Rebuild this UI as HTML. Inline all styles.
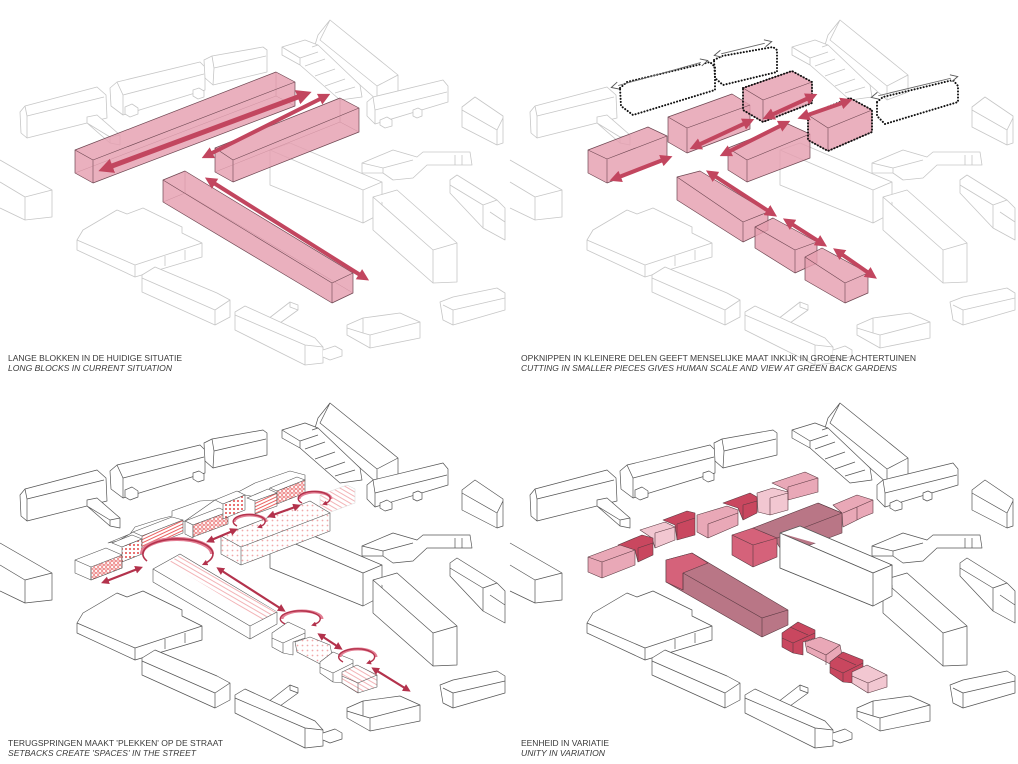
<!DOCTYPE html>
<html><head><meta charset="utf-8"><style>
html,body{margin:0;padding:0;background:#fff;}
svg{display:block;}
text{font-family:"Liberation Sans",Arial,sans-serif;font-size:8px;fill:#3a3a3a;}
</style></head><body>
<svg width="1018" height="764" viewBox="0 0 1018 764" xmlns="http://www.w3.org/2000/svg">
<defs>
<marker id="ah" viewBox="0 0 10 10" refX="6" refY="5" markerWidth="3" markerHeight="3" orient="auto-start-reverse"><path d="M0,0 L10,5 L0,10 z" fill="#c2465f"/></marker>
<marker id="ah2" viewBox="0 0 10 10" refX="6" refY="5" markerWidth="3.6" markerHeight="3.6" orient="auto-start-reverse"><path d="M0,0 L10,5 L0,10 z" fill="#b3324c"/></marker>
<marker id="ho" viewBox="0 0 10 10" refX="7" refY="5" markerUnits="userSpaceOnUse" markerWidth="9" markerHeight="9" orient="auto-start-reverse"><path d="M1,1 L9,5 L1,9" fill="#fff" stroke="#555" stroke-width="1"/></marker>
<pattern id="dots" width="4" height="4" patternUnits="userSpaceOnUse"><rect width="4" height="4" fill="#fff"/><circle cx="2" cy="2" r="0.95" fill="#e23a3a"/></pattern>
<pattern id="sq" width="4" height="4" patternUnits="userSpaceOnUse"><rect width="4" height="4" fill="#fff"/><circle cx="2" cy="2" r="1.3" fill="none" stroke="#e23a3a" stroke-width="0.7"/></pattern>
<pattern id="diag" width="3" height="3" patternUnits="userSpaceOnUse" patternTransform="rotate(-25)"><rect width="3" height="3" fill="#fff"/><line x1="0" y1="1" x2="3" y2="1" stroke="#e8504f" stroke-width="0.9"/></pattern>
<pattern id="pdiag" width="4" height="4" patternUnits="userSpaceOnUse" patternTransform="rotate(30)"><rect width="4" height="4" fill="#fff"/><line x1="0" y1="1" x2="4" y2="1" stroke="#f0a0a4" stroke-width="0.8"/></pattern>
<pattern id="pdots" width="5" height="5" patternUnits="userSpaceOnUse"><rect width="5" height="5" fill="#fff"/><circle cx="2.5" cy="2.5" r="0.9" fill="#f2a8aa"/></pattern>

<g id="cA">
<path d="M20,112 L25,106 L97,87 L106,95 L107,118 L27,138 L21,133 Z M25,106 L27,116 L27,138 M27,116 L104,97"/>
<path d="M87,117 L97,115 L120,135 L120,145 L110,143 L87,123 Z M87,123 L110,137 L120,135 M110,137 L110,143"/>
<path d="M318,35 L330,20 L398,75 L398,92 L377,100 L315,45 Z M330,20 L320,40 L377,86 L377,100 M377,86 L398,75"/>
<path d="M282,47 L305,40 L318,45 L360,85 L362,97 L340,100 L300,65 L282,55 Z M282,47 L300,58 L300,65 M300,58 L318,52 M305,66 L325,59 M315,76 L335,69 M325,86 L345,79 M335,93 L355,87 M312,47 L318,45"/>
<path d="M462,107 L475,97 L503,116 L503,143 L497,145 L462,127 Z M462,110 L497,130 L497,145 M497,130 L503,118"/>
<path d="M0,160 L52,190 L52,217 L25,220 L0,208 M0,182 L25,197 L52,190 M25,197 L25,220"/>
<path d="M362,163 L393,150 L417,157 L423,152 L470,152 L472,165 L427,165 L413,178 L393,180 L383,173 L362,173 Z M362,163 L383,168 L383,173 M383,168 L413,160 M455,155 L455,165 M462,155 L462,165"/>
<path d="M270,150 L290,143 L382,182 L382,213 L363,223 L270,185 Z M270,150 L363,190 L382,182 M363,190 L363,223"/>
<path d="M373,197 L397,190 L457,243 L457,282 L433,283 L373,230 Z M373,197 L433,250 L457,243 M433,250 L433,283"/>
<path d="M450,180 L457,175 L497,200 L505,208 L505,240 L483,228 L450,193 Z M450,185 L483,205 L483,228 M483,205 L497,200 M490,212 L505,222"/>
<path d="M77,240 L83,230 L117,210 L127,214 L143,208 L182,227 L182,233 L202,243 L202,257 L135,277 L77,250 Z M77,240 L135,265 L202,243 M135,265 L135,277 M165,256 L165,266 M185,250 L185,260"/>
<path d="M142,275 L155,267 L217,293 L230,300 L230,317 L215,325 L142,292 Z M142,278 L215,310 L230,300 M215,310 L215,325"/>
<path d="M268,319 L290,302 L298,305 L298,310 L280,323 Z M290,302 L290,307 L298,310"/>
<path d="M235,312 L245,306 L315,338 L323,347 L323,363 L305,365 L235,330 Z M235,315 L305,345 L323,347 M305,345 L305,365"/>
<path d="M323,350 L335,346 L342,350 L342,356 L330,360 L323,357"/>
<path d="M347,325 L363,318 L400,313 L420,322 L420,338 L370,348 L347,335 Z M347,328 L363,333 L370,335 L370,348 M370,335 L420,322 M363,318 L363,333"/>
<path d="M440,302 L453,297 L497,288 L505,293 L505,310 L453,325 L443,320 Z M443,305 L453,310 L505,298 M453,310 L453,325"/>
</g>
<g id="cB">
<path d="M110,88 L117,82 L200,62 L205,67 L205,90 L123,115 L111,106 Z M117,82 L123,95 L123,115 M123,95 L204,74"/>
<path d="M125,107 L132,104 L138,108 L138,114 L130,117 L125,114 Z M193,90 L199,88 L204,91 L204,97 L198,99 L193,96 Z"/>
<path d="M204,60 L212,56 L263,47 L267,50 L267,72 L213,85 L205,78 Z M212,56 L214,68 L213,85 M214,68 L266,56"/>
<path d="M367,102 L373,97 L443,80 L448,86 L448,102 L375,124 L367,116 Z M373,97 L375,110 L375,124 M375,110 L447,92"/>
<path d="M380,120 L387,117 L392,120 L392,126 L385,128 L380,125 Z M413,110 L418,108 L422,110 L422,116 L417,118 L413,116 Z"/>
</g>
<g id="cBo">
<path d="M110,88 L117,82 L200,62 L205,67 L205,90 L123,115 L111,106 Z"/>
<path d="M204,60 L212,56 L263,47 L267,50 L267,72 L213,85 L205,78 Z"/>
<path d="M367,102 L373,97 L443,80 L448,86 L448,102 L375,124 L367,116 Z"/>
</g>
<path id="bI" d="M270,150 L290,143 L382,182 L382,213 L363,223 L270,185 Z M270,150 L363,190 L382,182 M363,190 L363,223"/>
</defs>
<rect width="1018" height="764" fill="#fff"/>

<!-- ============ TOP LEFT ============ -->
<g transform="translate(0,0)" stroke-linejoin="round">
<use href="#cA" fill="#fff" stroke="#c6c6c6" stroke-width="0.8"/>
<use href="#cB" fill="#fff" stroke="#c6c6c6" stroke-width="0.8"/>
<g fill="#e59fb0" fill-opacity="0.82" stroke="#6e4752" stroke-width="0.7">
<path d="M75,150 L276,72 L295,82 L295,106 L93,183 L75,173 Z"/>
<path d="M215,148 L340,98 L359,108 L359,132 L233,182 L215,172 Z"/>
<path d="M163,180 L185,171 L353,273 L353,293 L332,303 L163,202 Z"/>
</g>
<g fill="none" stroke="#6e4752" stroke-width="0.6">
<path d="M75,150 L93,160 L295,82 M93,160 L93,183"/>
<path d="M215,148 L233,160 L359,108 M233,160 L233,182"/>
<path d="M163,180 L332,283 L353,273 M332,283 L332,303"/>
</g>
<g fill="none" stroke="#b07080" stroke-width="0.4" opacity="0.6">
<path d="M75,173 L276,96 L276,72 M276,96 L295,106"/>
<path d="M215,172 L340,122 L340,98 M340,122 L359,132"/>
<path d="M163,202 L185,193 L185,171 M185,193 L353,293"/>
</g>
<g stroke="#c2465f" fill="none" marker-start="url(#ah)" marker-end="url(#ah)">
<line x1="104" y1="169" x2="306" y2="94" stroke-width="5"/>
<line x1="206" y1="156" x2="326" y2="96" stroke-width="4"/>
<line x1="209" y1="180" x2="365" y2="278" stroke-width="4"/>
</g>
<text x="8" y="361" textLength="174" lengthAdjust="spacingAndGlyphs">LANGE BLOKKEN IN DE HUIDIGE SITUATIE</text>
<text x="8" y="371" textLength="164" lengthAdjust="spacingAndGlyphs" font-style="italic">LONG BLOCKS IN CURRENT SITUATION</text>
</g>

<!-- ============ TOP RIGHT ============ -->
<g transform="translate(510,0)" stroke-linejoin="round">
<use href="#cA" fill="#fff" stroke="#c6c6c6" stroke-width="0.8"/>
<use href="#cBo" fill="none" stroke="#111" stroke-width="2" stroke-dasharray="0.1 3" stroke-linecap="round"/>
<g stroke="#666" stroke-width="0.9" fill="none" marker-start="url(#ho)" marker-end="url(#ho)">
<line x1="103" y1="87" x2="196" y2="61"/>
<line x1="206" y1="55" x2="260" y2="42"/>
<line x1="363" y1="97" x2="446" y2="77"/>
</g>
<g fill="#e59fb0" fill-opacity="0.82" stroke="#6e4752" stroke-width="0.7">
<path d="M78,150 L138,127 L157,136 L157,160 L97,183 L78,173 Z"/>
<path d="M158,117 L222,94 L240,105 L240,129 L177,153 L158,142 Z"/>
<path d="M233,88 L282,71 L302,82 L302,103 L253,122 L233,110 Z"/>
<path d="M218,148 L278,124 L300,134 L300,158 L237,182 L218,170 Z"/>
<path d="M298,115 L340,98 L362,110 L362,132 L318,151 L298,140 Z"/>
<path d="M167,177 L190,171 L258,212 L258,230 L233,242 L167,200 Z"/>
<path d="M245,227 L263,218 L307,242 L307,263 L285,273 L245,248 Z"/>
<path d="M295,257 L312,248 L358,273 L358,293 L335,303 L295,280 Z"/>
</g>
<g fill="none" stroke="#6e4752" stroke-width="0.6">
<path d="M78,150 L97,159 L157,136 M97,159 L97,183"/>
<path d="M158,117 L177,128 L240,105 M177,128 L177,153"/>
<path d="M233,88 L253,100 L302,82 M253,100 L253,122"/>
<path d="M218,148 L237,160 L300,134 M237,160 L237,182"/>
<path d="M298,115 L318,128 L362,110 M318,128 L318,151"/>
<path d="M167,177 L233,222 L258,212 M233,222 L233,242"/>
<path d="M245,227 L285,250 L307,242 M285,250 L285,273"/>
<path d="M295,257 L335,283 L358,273 M335,283 L335,303"/>
</g>
<g fill="none" stroke="#111" stroke-width="2" stroke-dasharray="0.1 3" stroke-linecap="round">
<path d="M233,88 L282,71 L302,82 L302,103 L253,122 L233,110 Z"/>
<path d="M298,115 L340,98 L362,110 L362,132 L318,151 L298,140 Z"/>
</g>
<g stroke="#c2465f" fill="none" stroke-width="4" marker-start="url(#ah)" marker-end="url(#ah)">
<line x1="104" y1="179" x2="158" y2="158"/>
<line x1="184" y1="147" x2="240" y2="121"/>
<line x1="257" y1="117" x2="303" y2="96"/>
<line x1="214" y1="154" x2="276" y2="123"/>
<line x1="292" y1="117" x2="338" y2="101"/>
<line x1="200" y1="173" x2="263" y2="214"/>
<line x1="277" y1="221" x2="313" y2="244"/>
<line x1="327" y1="251" x2="363" y2="276"/>
</g>
<text x="11" y="361" textLength="395" lengthAdjust="spacingAndGlyphs">OPKNIPPEN IN KLEINERE DELEN GEEFT MENSELIJKE MAAT INKIJK IN GROENE ACHTERTUINEN</text>
<text x="11" y="371" textLength="376" lengthAdjust="spacingAndGlyphs" font-style="italic">CUTTING IN SMALLER PIECES GIVES HUMAN SCALE AND VIEW AT GREEN BACK GARDENS</text>
</g>

<!-- ============ BOTTOM LEFT ============ -->
<g transform="translate(0,383)" stroke-linejoin="round">
<use href="#cA" fill="#fff" stroke="#555" stroke-width="0.7"/>
<use href="#cB" fill="#fff" stroke="#555" stroke-width="0.7"/>
<g stroke="#555" stroke-width="0.6">
<path fill="#fff" d="M108,160 L130,151 L135,144 L160,136 L172,133 L172,128 L200,118 L215,117 L240,108 L255,100 L290,88 L305,92 L305,97 L270,105 L262,115 L245,112 L215,117 L185,138 L133,149 L118,158 Z"/>
<path fill="#fff" d="M75,177 L106,165 L122,172 L122,185 L91,197 L75,190 Z"/>
<path fill="url(#sq)" d="M91,184 L122,172 L122,185 L91,197 Z"/>
<path fill="none" d="M75,177 L91,184 L91,197"/>
<path fill="#fff" d="M112,160 L132,152 L142,156 L122,164 Z"/>
<path fill="url(#dots)" d="M122,164 L142,156 L142,171 L122,179 Z"/>
<path fill="#fff" d="M133,149 L172,134 L183,137 L142,153 Z"/>
<path fill="url(#diag)" d="M142,153 L183,137 L183,150 L142,166 Z"/>
<path fill="#fff" d="M185,138 L219,125 L228,129 L193,142 Z"/>
<path fill="#fff" d="M185,138 L193,142 L193,155 L185,151 Z"/>
<path fill="url(#sq)" d="M193,142 L228,129 L228,141 L193,154 Z"/>
<path fill="#fff" d="M215,117 L237,108 L245,112 L223,121 Z"/>
<path fill="url(#dots)" d="M223,121 L245,112 L245,127 L223,136 Z"/>
<path fill="#fff" d="M247,115 L268,106 L277,110 L255,118 Z"/>
<path fill="url(#diag)" d="M255,118 L277,110 L277,123 L255,131 Z"/>
<path fill="#fff" d="M270,105 L297,94 L305,97 L277,108 Z"/>
<path fill="url(#sq)" d="M277,108 L305,97 L305,110 L277,121 Z"/>
<path fill="url(#pdiag)" stroke="#ddd" d="M320,112 L347,102 L355,106 L355,120 L328,130 L320,126 Z"/>
<path fill="url(#pdots)" d="M221,153 L310,118 L330,130 L330,148 L241,182 L221,171 Z"/>
<path fill="none" d="M221,153 L241,164 L330,130 M241,164 L241,182"/>
<path fill="#fff" d="M153,186 L180,171 L277,229 L277,241 L250,256 L153,199 Z"/>
<path fill="url(#pdiag)" stroke="none" d="M180,172 L277,229 L262,237 L168,180 Z"/>
<path fill="none" d="M153,186 L250,243 L277,229 M250,243 L250,256"/>
<path fill="#fff" d="M272,250 L288,239 L305,247 L305,255 L293,259 L293,272 L283,270 L272,264 Z"/>
<path fill="url(#pdots)" d="M295,259 L310,254 L330,262 L333,277 L322,282 L297,269 Z"/>
<path fill="#fff" d="M320,279 L333,269 L353,277 L353,285 L343,289 L343,300 L333,299 L320,290 Z"/>
<path fill="url(#pdiag)" d="M342,289 L357,282 L377,292 L377,304 L358,310 L342,300 Z"/>
<path fill="none" d="M272,255 L283,260 L305,250 M283,260 L283,270 M320,284 L333,290 L353,280 M333,290 L333,299 M342,293 L358,300 L377,292 M358,300 L358,310"/>
</g>
<g fill="none">
<path d="M142,171 A35,15 0 0,1 212,171" stroke="#e27d92" stroke-width="4"/>
<path d="M147,178 A35,15 0 1,1 204,181" stroke="#b3324c" stroke-width="1.6" marker-end="url(#ah2)"/>
<path d="M234,139 A16,7 0 0,1 266,139" stroke="#e27d92" stroke-width="3"/>
<path d="M237,143 A16,7 0 1,1 259,144" stroke="#b3324c" stroke-width="1.4" marker-end="url(#ah2)"/>
<path d="M299,116 A16,7 0 0,1 331,116" stroke="#e27d92" stroke-width="3"/>
<path d="M302,120 A16,7 0 1,1 324,121" stroke="#b3324c" stroke-width="1.4" marker-end="url(#ah2)"/>
<path d="M282,236 A20,8 0 0,1 322,236" stroke="#e27d92" stroke-width="3"/>
<path d="M285,241 A20,8 0 1,1 313,242" stroke="#b3324c" stroke-width="1.4" marker-end="url(#ah2)"/>
<path d="M340,274 A18,8 0 0,1 376,274" stroke="#e27d92" stroke-width="3"/>
<path d="M343,279 A18,8 0 1,1 368,280" stroke="#b3324c" stroke-width="1.4" marker-end="url(#ah2)"/>
</g>
<g stroke="#b3324c" stroke-width="2.2" fill="none" marker-start="url(#ah2)" marker-end="url(#ah2)">
<line x1="104" y1="199" x2="140" y2="185"/>
<line x1="209" y1="158" x2="235" y2="147"/>
<line x1="270" y1="133" x2="298" y2="123"/>
<line x1="219" y1="186" x2="283" y2="227"/>
<line x1="320" y1="252" x2="340" y2="265"/>
<line x1="374" y1="286" x2="408" y2="307"/>
</g>
<text x="8" y="363" textLength="215" lengthAdjust="spacingAndGlyphs">TERUGSPRINGEN MAAKT 'PLEKKEN' OP DE STRAAT</text>
<text x="8" y="373" textLength="188" lengthAdjust="spacingAndGlyphs" font-style="italic">SETBACKS CREATE 'SPACES' IN THE STREET</text>
</g>

<!-- ============ BOTTOM RIGHT ============ -->
<g transform="translate(510,383)" stroke-linejoin="round">
<use href="#cA" fill="#fff" stroke="#555" stroke-width="0.7"/>
<use href="#cB" fill="#fff" stroke="#555" stroke-width="0.7"/>
<g stroke="#5a3a42" stroke-width="0.6">
<path fill="#e9a8b7" d="M262,100 L295,89 L308,95 L308,109 L278,117 L277,107 Z"/>
<path fill="#f2c7d1" d="M247,110 L263,105 L278,109 L278,127 L260,132 L248,129 Z"/>
<path fill="#c9475f" d="M213,120 L240,110 L247,114 L247,130 L233,137 L228,125 Z"/>
<path fill="#e9a8b7" d="M187,132 L217,123 L228,127 L228,142 L198,155 L187,149 Z"/>
<path fill="#c9475f" d="M153,137 L177,128 L185,130 L185,152 L167,157 L165,142 Z"/>
<path fill="#f2c7d1" d="M130,147 L155,139 L165,144 L165,157 L145,165 L142,155 Z"/>
<path fill="#c9475f" d="M108,162 L132,152 L143,155 L143,172 L128,179 L125,167 Z"/>
<path fill="#e9a8b7" d="M78,174 L110,162 L125,167 L125,182 L92,195 L78,189 Z"/>
<path fill="none" d="M78,174 L92,179 L125,167 M92,179 L92,195 M128,165 L143,160 M128,165 L128,179 M167,141 L185,135 M167,141 L167,157 M233,122 L247,118 M233,122 L233,137 M198,141 L228,130 M198,141 L198,155 M260,115 L278,110 M260,115 L260,132 M278,104 L308,95 M278,104 L278,117 M145,150 L165,144 M145,150 L145,165"/>
<path fill="#e9a8b7" d="M323,122 L347,112 L363,117 L363,130 L353,134 L333,144 L332,130 Z"/>
<path fill="#b97686" d="M243,145 L308,120 L332,130 L332,150 L300,162 L270,165 L267,160 Z"/>
<path fill="#d5627a" d="M222,152 L243,145 L267,155 L267,174 L243,184 L222,172 Z"/>
<path fill="none" d="M222,152 L243,162 L267,155 M243,162 L243,184 M267,155 L332,130 M308,120 L332,130 M333,130 L347,124 L363,117 M347,124 L347,137"/>
<path fill="#b97686" d="M156,177 L182,170 L278,227 L278,242 L252,254 L156,199 Z"/>
<path fill="#d5627a" d="M156,177 L182,170 L198,180 L173,190 L173,207 L156,199 Z"/>
<path fill="none" d="M173,190 L252,235 L278,227 M252,235 L252,254 M173,190 L173,207"/>
<path fill="#c9475f" d="M272,250 L288,239 L305,247 L305,255 L293,259 L293,272 L283,270 L272,264 Z"/>
<path fill="#e9a8b7" d="M295,259 L310,254 L330,262 L333,277 L322,282 L297,269 Z"/>
<path fill="#c9475f" d="M320,279 L333,269 L353,277 L353,285 L343,289 L343,300 L333,299 L320,290 Z"/>
<path fill="#f2c7d1" d="M342,289 L357,282 L377,292 L377,304 L358,310 L342,300 Z"/>
<path fill="none" d="M272,255 L283,260 L305,250 M283,260 L283,270 M280,244 L298,252 M320,284 L333,290 L353,280 M333,290 L333,299 M328,274 L346,282 M342,293 L358,300 L377,292 M358,300 L358,310 M297,263 L316,272 L330,262 M316,272 L316,282"/>
</g>
<use href="#bI" fill="#fff" stroke="#555" stroke-width="0.7"/>
<text x="11" y="363" textLength="88" lengthAdjust="spacingAndGlyphs">EENHEID IN VARIATIE</text>
<text x="11" y="373" textLength="84" lengthAdjust="spacingAndGlyphs" font-style="italic">UNITY IN VARIATION</text>
</g>
</svg>
</body></html>
